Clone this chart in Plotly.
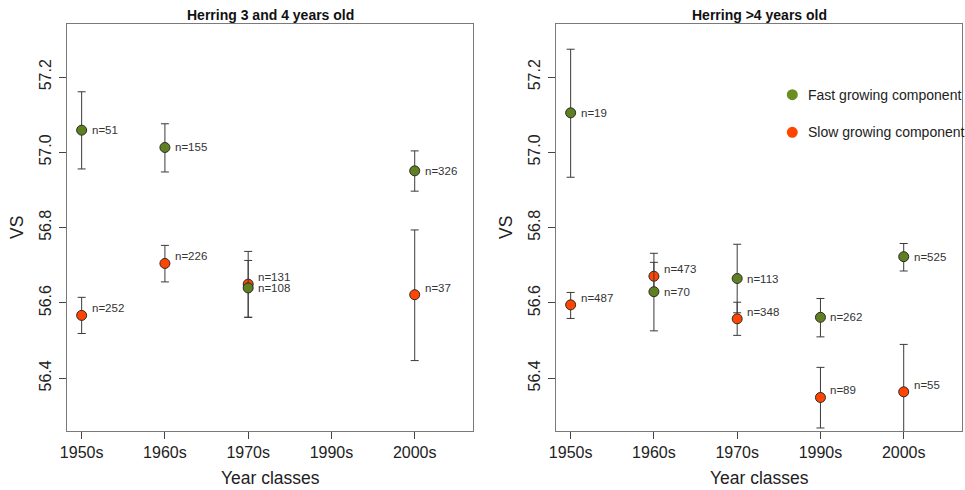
import plotly.graph_objects as go

# Year classes shown on both panels
decades = ["1950s", "1960s", "1970s", "1990s", "2000s"]

# Herring 3 and 4 years old: mean VS with lower/upper limits and sample size
young_fast_mean = [57.059, 57.013, 56.640, None, 56.951]
young_fast_upper = [57.161, 57.076, 56.713, None, 57.004]
young_fast_lower = [56.956, 56.948, 56.562, None, 56.897]
young_fast_n = [51, 155, 108, None, 326]

young_slow_mean = [56.567, 56.705, 56.650, None, 56.622]
young_slow_upper = [56.615, 56.753, 56.737, None, 56.794]
young_slow_lower = [56.519, 56.656, 56.562, None, 56.447]
young_slow_n = [252, 226, 131, None, 37]

# Herring older than 4 years
old_fast_mean = [57.105, 56.630, 56.665, 56.562, 56.723]
old_fast_upper = [57.274, 56.732, 56.756, 56.612, 56.758]
old_fast_lower = [56.934, 56.526, 56.574, 56.510, 56.685]
old_fast_n = [19, 70, 113, 262, 525]

old_slow_mean = [56.595, 56.671, 56.558, 56.349, 56.364]
old_slow_upper = [56.628, 56.708, 56.602, 56.429, 56.490]
old_slow_lower = [56.559, 56.634, 56.514, 56.268, 56.238]
old_slow_n = [487, 473, 348, 89, 55]

y_ticks = [56.4, 56.6, 56.8, 57.0, 57.2]
legend_labels = ["Fast growing component", "Slow growing component"]

FAST = "#5f8021"
SLOW = "#ff4500"
FAST_KEY = "#6b8e23"
FONT = "Arial, Liberation Sans, sans-serif"
W, H = 965, 490

# panel boxes in pixels (left, right); shared top/bottom
panels = [(67, 473), (556, 962)]
top_px, bottom_px = 24, 431


def errs(mean, upper, lower):
    plus = [None if m is None else u - m for m, u in zip(mean, upper)]
    minus = [None if m is None else m - l for m, l in zip(mean, lower)]
    return plus, minus


fig = go.Figure()

groups = [
    ("x", "y", [
        (young_slow_mean, young_slow_upper, young_slow_lower, young_slow_n, SLOW, 7),
        (young_fast_mean, young_fast_upper, young_fast_lower, young_fast_n, FAST, 0),
    ]),
    ("x2", "y2", [
        (old_slow_mean, old_slow_upper, old_slow_lower, old_slow_n, SLOW, 7),
        (old_fast_mean, old_fast_upper, old_fast_lower, old_fast_n, FAST, 0),
    ]),
]

annotations = []
shapes = []
for xa, ya, series in groups:
    for mean, upper, lower, n, color, yshift in series:
        plus, minus = errs(mean, upper, lower)
        xs = [d for d, m in zip(decades, mean) if m is not None]
        ys = [m for m in mean if m is not None]
        fig.add_trace(go.Scatter(
            x=xs, y=ys, xaxis=xa, yaxis=ya, mode="markers",
            showlegend=False,
            marker=dict(size=10, color=color, line=dict(color="#2b2b2b", width=1)),
            error_y=dict(type="data", symmetric=False,
                         array=[p for p in plus if p is not None],
                         arrayminus=[m for m in minus if m is not None],
                         color="#3a3a3a", thickness=1, width=4),
        ))
        for d, m, k in zip(decades, mean, n):
            if m is None:
                continue
            annotations.append(dict(
                x=d, y=m, xref=xa, yref=ya, text=f"n={k}", showarrow=False,
                xanchor="left", yanchor="middle", xshift=8, yshift=yshift,
                font=dict(family=FONT, size=11.5, color="#333333"),
            ))

# key inside the right panel: plain dots with labels
for i, (label, color) in enumerate(zip(legend_labels, [FAST_KEY, SLOW])):
    cy = 1 - (94.7 + i * 37.6) / H
    cx = 792.3 / W
    shapes.append(dict(type="circle", xref="paper", yref="paper",
                       xsizemode="pixel", ysizemode="pixel",
                       xanchor=cx, yanchor=cy, x0=-5.5, x1=5.5, y0=-5.5, y1=5.5,
                       fillcolor=color, line=dict(width=0)))
    annotations.append(dict(x=805.5 / W, y=cy, xref="paper", yref="paper", text=label,
                            showarrow=False, xanchor="left", yanchor="middle",
                            font=dict(family=FONT, size=14, color="#222222")))

titles = ["Herring 3 and 4 years old", "Herring >4 years old"]
for (l, r), t in zip(panels, titles):
    cx = (l + r) / 2 / W
    annotations.append(dict(x=cx, y=1 - 15 / H, xref="paper", yref="paper", text=f"<b>{t}</b>",
                            showarrow=False, xanchor="center", yanchor="middle",
                            font=dict(family=FONT, size=14, color="#111111")))
    annotations.append(dict(x=cx, y=1 - 478 / H, xref="paper", yref="paper", text="Year classes",
                            showarrow=False, xanchor="center", yanchor="middle",
                            font=dict(family=FONT, size=17.5, color="#222222")))
    annotations.append(dict(x=(l - 50) / W, y=1 - 228 / H, xref="paper", yref="paper", text="VS",
                            showarrow=False, xanchor="center", yanchor="middle", textangle=-90,
                            font=dict(family=FONT, size=17.5, color="#222222")))

y_range = [56.26, 57.341]
x_range = [-0.176, 4.7]
ydom = [1 - bottom_px / H, 1 - top_px / H]

axis_common = dict(
    showline=True, linecolor="#7a7a7a", linewidth=1, mirror=True,
    ticks="outside", ticklen=7, tickcolor="#444444", tickwidth=1,
    showgrid=False, zeroline=False, automargin=False,
    tickfont=dict(family=FONT, size=16, color="#222222"),
)

layout = dict(
    width=W, height=H,
    margin=dict(l=0, r=0, t=0, b=0, autoexpand=False),
    paper_bgcolor="white", plot_bgcolor="white",
    annotations=annotations,
    shapes=shapes,
    showlegend=False,
)
for i, (l, r) in enumerate(panels):
    sx = "" if i == 0 else "2"
    layout[f"xaxis{sx}"] = dict(axis_common, type="category", categoryorder="array",
                                categoryarray=decades, range=x_range,
                                domain=[l / W, r / W], anchor=f"y{sx}",
                                ticklabelstandoff=0)
    layout[f"yaxis{sx}"] = dict(axis_common, range=y_range, tickvals=y_ticks,
                                ticktext=[f"{v:.1f}" for v in y_ticks], tickangle=-90,
                                domain=ydom, anchor=f"x{sx}", ticklabelstandoff=2)

fig.update_layout(**layout)
fig.write_html("out.html")
